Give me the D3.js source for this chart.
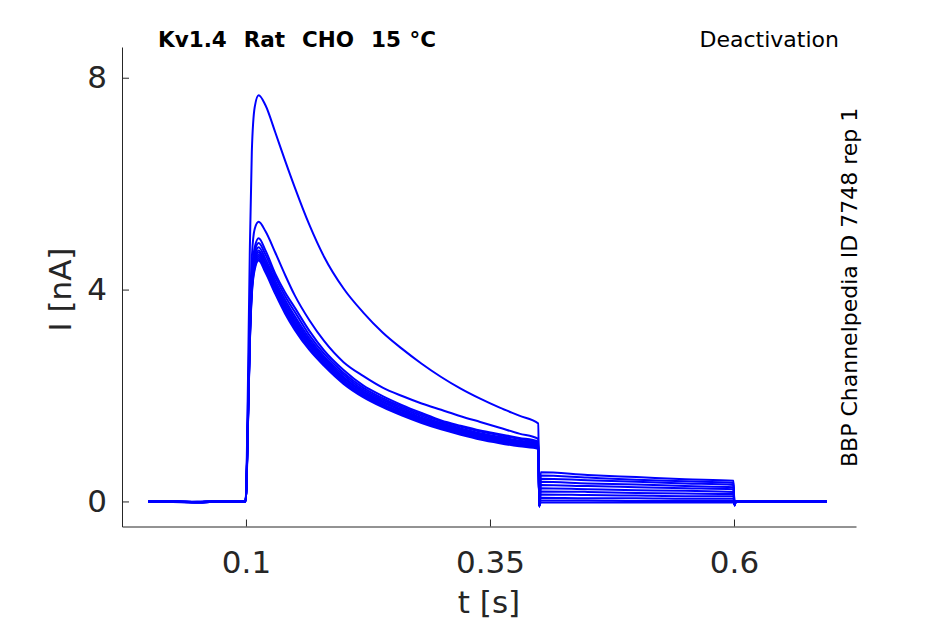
<!DOCTYPE html>
<html>
<head>
<meta charset="utf-8">
<script src="https://cdn.jsdelivr.net/npm/d3@7"></script>
<style>
  html, body { margin: 0; padding: 0; background: #fff; }
  svg { display: block; }
</style>
</head>
<body>
<div id="chart"></div>
<script>
// sample times (s), shared by every sweep
var times = [0.000, 0.025, 0.050, 0.075, 0.0995, 0.1005, 0.102, 0.104, 0.106, 0.109,
             0.113, 0.120, 0.130, 0.140, 0.150, 0.165, 0.180, 0.200, 0.220, 0.240,
             0.260, 0.280, 0.300, 0.320, 0.340, 0.360, 0.380, 0.3995, 0.4005, 0.402,
             0.450, 0.500, 0.550, 0.5995, 0.6005, 0.602, 0.650, 0.695];

// current (nA) per sweep
var sweep01 = [0.00, -0.01, 0.00, 0.01, 0.00, 0.40, 2.20, 4.80, 6.60, 7.45,
               7.67, 7.48, 6.97, 6.44, 5.93, 5.22, 4.62, 4.02, 3.57, 3.19,
               2.88, 2.60, 2.35, 2.13, 1.94, 1.77, 1.62, 1.47, -0.10, 0.55,
               0.50, 0.46, 0.42, 0.39, -0.08, 0.00, 0.01, 0.00];
var sweep02 = [0.00, 0.00, -0.01, 0.00, 0.00, 0.30, 1.80, 3.60, 4.60, 5.15,
               5.28, 5.10, 4.70, 4.28, 3.89, 3.42, 3.03, 2.63, 2.37, 2.15,
               1.99, 1.85, 1.73, 1.61, 1.50, 1.39, 1.28, 1.18, -0.10, 0.49,
               0.45, 0.41, 0.38, 0.35, -0.08, 0.00, 0.00, 0.00];
var sweep03 = [0.00, 0.01, -0.02, 0.00, 0.00, 0.30, 1.60, 3.30, 4.30, 4.80,
               4.97, 4.74, 4.30, 3.95, 3.66, 3.22, 2.85, 2.48, 2.19, 1.99,
               1.82, 1.67, 1.53, 1.43, 1.34, 1.27, 1.20, 1.13, -0.10, 0.43,
               0.40, 0.37, 0.34, 0.31, -0.07, 0.01, 0.00, 0.00];
var sweep04 = [0.00, 0.00, -0.01, 0.01, 0.00, 0.28, 1.55, 3.25, 4.22, 4.72,
               4.88, 4.66, 4.24, 3.88, 3.58, 3.14, 2.79, 2.43, 2.15, 1.95,
               1.79, 1.64, 1.51, 1.41, 1.32, 1.25, 1.18, 1.11, -0.09, 0.37,
               0.34, 0.32, 0.29, 0.27, -0.07, 0.00, 0.00, 0.01];
var sweep05 = [0.00, -0.01, -0.02, 0.00, 0.00, 0.28, 1.52, 3.20, 4.15, 4.64,
               4.80, 4.58, 4.17, 3.81, 3.50, 3.08, 2.74, 2.39, 2.11, 1.92,
               1.76, 1.61, 1.48, 1.38, 1.29, 1.22, 1.15, 1.09, -0.09, 0.31,
               0.29, 0.27, 0.25, 0.23, -0.07, 0.00, 0.01, 0.00];
var sweep06 = [0.00, 0.00, -0.01, 0.00, 0.00, 0.27, 1.50, 3.15, 4.10, 4.58,
               4.74, 4.52, 4.11, 3.75, 3.45, 3.03, 2.70, 2.35, 2.08, 1.89,
               1.73, 1.58, 1.46, 1.36, 1.27, 1.20, 1.13, 1.07, -0.09, 0.25,
               0.23, 0.21, 0.20, 0.18, -0.06, 0.00, 0.00, 0.00];
var sweep07 = [0.00, 0.01, -0.01, 0.00, 0.00, 0.27, 1.48, 3.12, 4.06, 4.54,
               4.70, 4.47, 4.07, 3.70, 3.40, 3.00, 2.67, 2.32, 2.06, 1.87,
               1.71, 1.56, 1.44, 1.34, 1.25, 1.18, 1.11, 1.06, -0.08, 0.19,
               0.18, 0.16, 0.15, 0.14, -0.06, 0.00, 0.00, 0.00];
var sweep08 = [0.00, 0.00, -0.02, 0.00, 0.00, 0.26, 1.46, 3.09, 4.02, 4.50,
               4.66, 4.43, 4.03, 3.66, 3.36, 2.96, 2.64, 2.29, 2.03, 1.84,
               1.68, 1.54, 1.42, 1.32, 1.23, 1.16, 1.09, 1.04, -0.08, 0.13,
               0.12, 0.11, 0.10, 0.10, -0.06, 0.00, 0.01, 0.00];
var sweep09 = [0.00, 0.00, -0.01, 0.01, 0.00, 0.26, 1.44, 3.05, 3.98, 4.46,
               4.62, 4.40, 3.99, 3.62, 3.32, 2.93, 2.61, 2.27, 2.01, 1.82,
               1.66, 1.52, 1.40, 1.30, 1.21, 1.14, 1.07, 1.02, -0.08, 0.07,
               0.06, 0.06, 0.05, 0.05, -0.05, 0.00, 0.00, 0.00];
var sweep10 = [0.00, -0.01, -0.01, 0.00, 0.00, 0.25, 1.42, 3.02, 3.94, 4.42,
               4.58, 4.36, 3.95, 3.58, 3.28, 2.89, 2.58, 2.24, 1.99, 1.80,
               1.64, 1.50, 1.38, 1.28, 1.19, 1.12, 1.06, 1.01, -0.08, 0.02,
               0.02, 0.01, 0.01, 0.01, -0.05, 0.00, 0.00, 0.00];
var sweep11 = [0.00, 0.00, -0.02, 0.00, 0.00, 0.25, 1.40, 3.00, 3.90, 4.38,
               4.55, 4.32, 3.92, 3.55, 3.24, 2.86, 2.56, 2.22, 1.97, 1.78,
               1.62, 1.48, 1.36, 1.26, 1.17, 1.10, 1.04, 0.99, -0.08, -0.02,
               -0.02, -0.02, -0.02, -0.02, -0.05, 0.00, 0.00, 0.00];

var sweeps = [sweep01, sweep02, sweep03, sweep04, sweep05, sweep06,
              sweep07, sweep08, sweep09, sweep10, sweep11];

var xTicks = [0.1, 0.35, 0.6];
var yTicks = [0, 4, 8];
var xDomain = [-0.027, 0.725];
var yDomain = [-0.473, 8.58];

var title = 'Kv1.4  Rat  CHO  15 °C';
var protocol = 'Deactivation';
var sideNote = 'BBP Channelpedia ID 7748 rep 1';

var W = 945, H = 624;
var plotLeft = 122, plotRight = 856, plotTop = 47, plotBottom = 526.5;
var axisColor = '#262626';
var font = '"DejaVu Sans", sans-serif';

var svg = d3.select('#chart').append('svg')
  .attr('width', W).attr('height', H);

var x = d3.scaleLinear().domain(xDomain).range([plotLeft, plotRight]);
var y = d3.scaleLinear().domain(yDomain).range([plotBottom, plotTop]);

// traces
var line = d3.line()
  .x(function(d, i) { return x(times[i]); })
  .y(function(d) { return y(d); })
  .curve(d3.curveMonotoneX);

svg.append('g').selectAll('path')
  .data(sweeps)
  .enter().append('path')
    .attr('d', line)
    .attr('fill', 'none')
    .attr('stroke', '#0000ff')
    .attr('stroke-width', 2)
    .attr('stroke-linejoin', 'round');

// axes, ticks pointing inward
var yAxis = svg.append('g')
  .attr('transform', 'translate(' + plotLeft + ',0)')
  .call(d3.axisLeft(y).tickValues(yTicks).tickFormat(d3.format('d'))
    .tickSizeInner(-7).tickSizeOuter(0).tickPadding(15));

var xAxis = svg.append('g')
  .attr('transform', 'translate(0,' + plotBottom + ')')
  .call(d3.axisBottom(x).tickValues(xTicks).tickFormat(function(d) { return String(d); })
    .tickSizeInner(-7).tickSizeOuter(0).tickPadding(24));

[xAxis, yAxis].forEach(function(a) {
  a.select('.domain').attr('stroke', axisColor).attr('stroke-width', 1);
  a.selectAll('.tick line').attr('stroke', axisColor).attr('stroke-width', 1);
  a.selectAll('.tick text')
    .attr('fill', axisColor)
    .style('font-family', font)
    .style('font-size', '31px');
});

// axis labels
svg.append('text')
  .attr('transform', 'translate(71,' + y(4) + ') rotate(-90)')
  .attr('text-anchor', 'middle')
  .attr('fill', axisColor)
  .style('font-family', font).style('font-size', '31px')
  .text('I [nA]');

svg.append('text')
  .attr('x', (plotLeft + plotRight) / 2).attr('y', 613)
  .attr('text-anchor', 'middle')
  .attr('fill', axisColor)
  .style('font-family', font).style('font-size', '31px')
  .text('t [s]');

// annotations
svg.append('text')
  .attr('x', 158).attr('y', 47)
  .attr('fill', '#000')
  .style('white-space', 'pre')
  .style('font-family', font).style('font-size', '21.5px').style('font-weight', 'bold')
  .style('word-spacing', '1px')
  .text(title);

svg.append('text')
  .attr('x', 839).attr('y', 47)
  .attr('text-anchor', 'end')
  .attr('fill', '#000')
  .style('font-family', font).style('font-size', '22px')
  .text(protocol);

svg.append('text')
  .attr('transform', 'translate(857,467) rotate(-90)')
  .attr('fill', '#000')
  .style('font-family', font).style('font-size', '22px')
  .text(sideNote);
</script>
</body>
</html>
